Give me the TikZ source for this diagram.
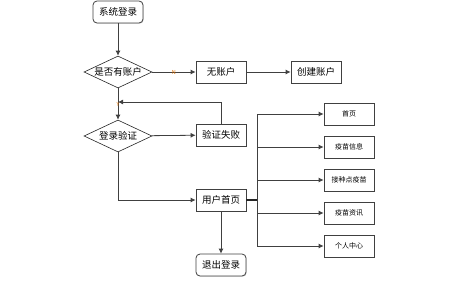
\documentclass[tikz,border=0pt]{standalone}
\usepackage{fontspec}
\setmainfont{Noto Sans CJK SC}
\usetikzlibrary{shapes.geometric, arrows.meta, positioning, shadows, calc}

\begin{document}
\begin{tikzpicture}[
  x=1pt, y=-1pt,
  box/.style    = {draw=black!75, line width=0.8pt, fill=white, minimum width=50pt,
                   minimum height=22pt, font=\fontsize{9.5}{11}\selectfont, inner sep=1pt,
                   drop shadow={shadow xshift=0.7pt, shadow yshift=-0.7pt, opacity=0.35}},
  term/.style   = {box, rounded corners=4pt},
  decide/.style = {draw=black!85, diamond, aspect=2.1, fill=white, line width=0.6pt,
                   inner sep=0pt, minimum width=68pt, minimum height=32pt,
                   font=\fontsize{9.5}{11}\selectfont},
  menu/.style   = {box, font=\fontsize{7}{8}\selectfont},
  arr/.style    = {-{Latex[length=5pt, width=5pt]}, draw=black!75, line width=0.8pt},
  yn/.style     = {font=\fontsize{5.5}{6}\selectfont, text=orange!85!black, inner sep=0.5pt}
]
\useasboundingbox (0,0) rectangle (476,292);

% main flow
\node[term] (start) at (118,12) {系统登录};
\node[decide] (acct) at (118,72) {是否有账户};
\node[box] (noacct) at (221,72) {无账户};
\node[box] (create) at (316,72) {创建账户};
\node[decide] (login) at (118,136) {登录验证};
\node[box] (fail) at (221,135) {验证失败};
\node[box] (home) at (221,200) {用户首页};
\node[term] (logout) at (221,265) {退出登录};
\coordinate (join) at (118,102);
\coordinate (bus) at (257,200);

% menu
\node[menu] (m1) at (349,114) {首页};
\node[menu] (m2) at (349,147) {疫苗信息};
\node[menu] (m3) at (349,180) {接种点疫苗};
\node[menu] (m4) at (349,213) {疫苗资讯};
\node[menu] (m5) at (349,246) {个人中心};

\draw[arr] (start) -- (acct);
\draw[arr] (acct) -- node[yn] {N} (noacct);
\draw[arr] (noacct) -- (create);
\draw[arr] (acct) -- (login);
\node[yn] at ($(join)+(0,2)$) {Y};
\draw[arr] (fail.north) |- (join);
\draw[arr] (login) -- (fail);
\draw[arr] (login.south) |- (home.west);
\draw[arr] (home) -- (logout);

\draw[draw=black!85, line width=1.8pt] (home.east) -- (bus);
\foreach \m in {m1,m2,m3,m4,m5}
  \draw[arr] (bus) |- (\m.west);

\end{tikzpicture}
\end{document}
